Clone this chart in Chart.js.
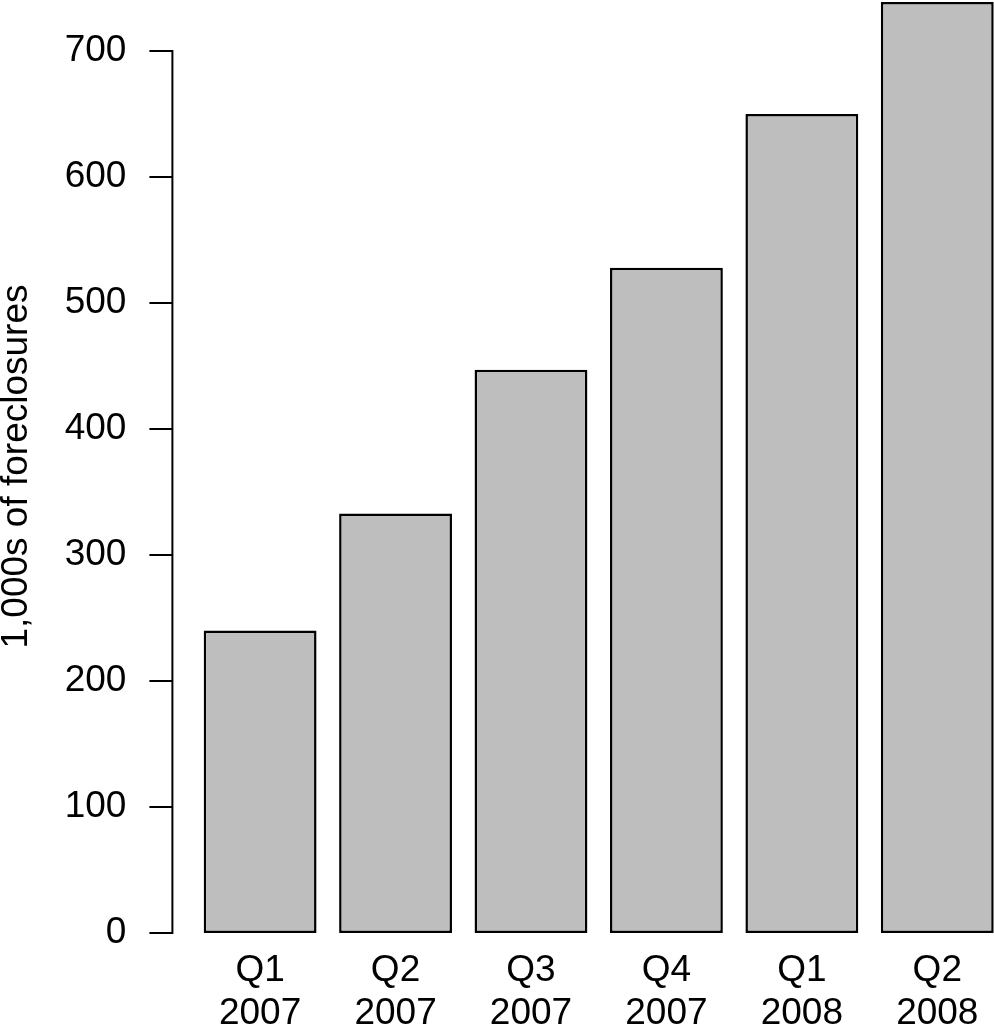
<!DOCTYPE html>
<html>
<head>
<meta charset="utf-8">
<script src="https://cdn.jsdelivr.net/npm/chart.js@4"></script>
<style>
  html, body { margin: 0; padding: 0; background: #fff; overflow: hidden; }
  #wrap { position: relative; width: 1005px; height: 1024px; }
</style>
</head>
<body>
<div id="wrap"><canvas id="myChart"></canvas></div>
<script>
var quarters = ['Q1', 'Q2', 'Q3', 'Q4', 'Q1', 'Q2']
var years = ['2007', '2007', '2007', '2007', '2008', '2008']
var foreclosures = [240, 333, 447, 528, 650, 739]
var yTicks = [0, 100, 200, 300, 400, 500, 600, 700]

var font = '"Liberation Sans", Arial, Helvetica, sans-serif'

// R-style axis: line only spans the tick range, sits left of the bars
var rAxis = {
  id: 'rAxis',
  afterDraw: function(chart) {
    var ctx = chart.ctx
    var y = chart.scales.y
    var x0 = chart.chartArea.left - 20
    ctx.save()
    ctx.strokeStyle = '#000'
    ctx.lineWidth = 2
    ctx.beginPath()
    ctx.moveTo(x0, y.getPixelForValue(yTicks[0]))
    ctx.lineTo(x0, y.getPixelForValue(yTicks[yTicks.length - 1]))
    for (var i = 0; i < yTicks.length; i++) {
      var py = y.getPixelForValue(yTicks[i])
      ctx.moveTo(x0 + 1, py)
      ctx.lineTo(x0 - 23, py)
    }
    ctx.stroke()
    ctx.restore()
  }
}

var chart = new Chart('myChart', {
  type: 'bar',
  data: {
    labels: quarters.map(function(q, i) { return [q, years[i]] }),
    datasets: [{
      data: foreclosures,
      backgroundColor: '#bebebe',
      borderColor: '#000',
      borderWidth: 2.5,
      borderSkipped: false,
      barPercentage: 1 / 1.2,
      categoryPercentage: 1
    }]
  },
  options: {
    responsive: true,
    maintainAspectRatio: false,
    animation: false,
    devicePixelRatio: 1,
    layout: { padding: 0 },
    plugins: {
      legend: { display: false },
      tooltip: { enabled: false }
    },
    scales: {
      x: {
        offset: true,
        grid: { display: false, drawTicks: false },
        border: { display: false },
        ticks: {
          color: '#000',
          padding: 16,
          maxRotation: 0,
          autoSkip: false,
          font: { family: font, size: 37, lineHeight: 1.17 }
        },
        afterFit: function(s) { s.height = 91; s.paddingLeft = 0; s.paddingRight = 0 }
      },
      y: {
        min: 0,
        max: 740.5,
        grid: { display: false, drawTicks: false },
        border: { display: false },
        ticks: {
          color: '#000',
          padding: 66,
          includeBounds: false,
          font: { family: font, size: 37 }
        },
        afterBuildTicks: function(s) {
          s.ticks = yTicks.map(function(v) { return { value: v } })
        },
        title: {
          display: true,
          text: '1,000s of foreclosures',
          color: '#000',
          padding: 0,
          font: { family: font, size: 37, lineHeight: 0.9 }
        },
        afterFit: function(s) { s.width = 192.4; s.paddingTop = 0; s.paddingBottom = 0 }
      }
    }
  },
  plugins: [rAxis]
})
</script>
</body>
</html>
